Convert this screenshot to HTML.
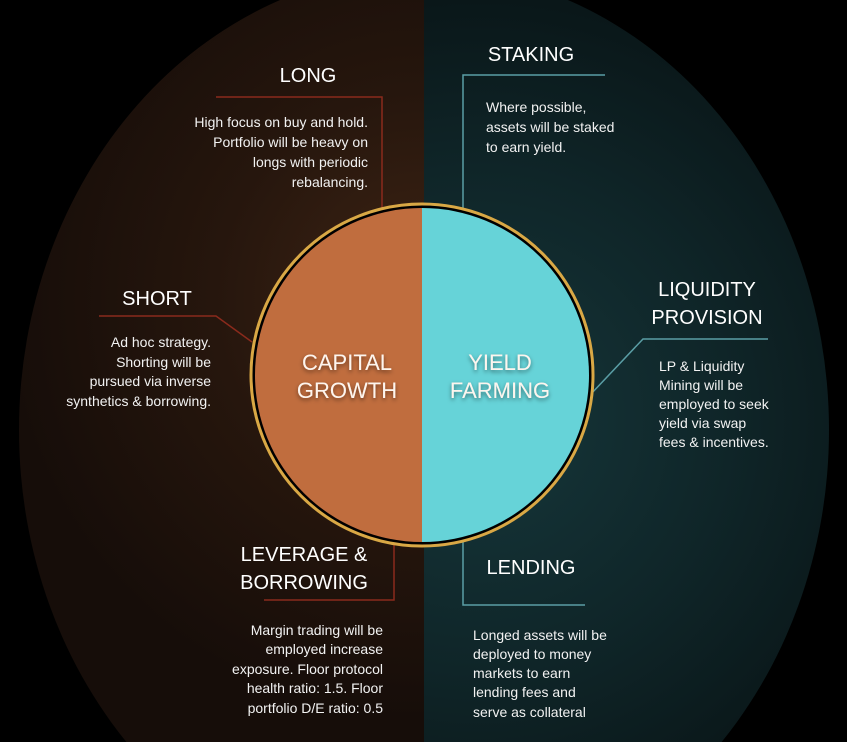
<!DOCTYPE html>
<html><head><meta charset="utf-8"><style>
html,body{margin:0;padding:0;background:#000;width:847px;height:742px;overflow:hidden;}
svg{display:block;}
text{font-family:"Liberation Sans",sans-serif;fill:#fff;}
.t{font-size:20px;}
.b{font-size:14px;fill:#f2f2f2;}
.c{font-size:22px;fill:#fdf5ee;}
</style></head><body>
<svg width="847" height="742" viewBox="0 0 847 742" xmlns="http://www.w3.org/2000/svg">
<defs>
<radialGradient id="gl" cx="424" cy="300" r="420" gradientUnits="userSpaceOnUse">
<stop offset="0" stop-color="#3e2414"/><stop offset="0.5" stop-color="#26160d"/><stop offset="1" stop-color="#160d09"/>
</radialGradient>
<radialGradient id="gr" cx="480" cy="420" r="420" gradientUnits="userSpaceOnUse">
<stop offset="0" stop-color="#16373b"/><stop offset="0.6" stop-color="#0f2528"/><stop offset="1" stop-color="#0a1719"/>
</radialGradient>
<clipPath id="L"><rect x="0" y="0" width="424" height="742"/></clipPath>
<clipPath id="R"><rect x="424" y="0" width="423" height="742"/></clipPath>
<filter id="sh"><feDropShadow dx="0" dy="2" stdDeviation="2" flood-color="#000" flood-opacity="0.5"/></filter>
</defs>
<rect width="847" height="742" fill="#000"/>
<ellipse cx="424" cy="430" rx="405" ry="460" fill="url(#gl)" clip-path="url(#L)"/>
<ellipse cx="424" cy="430" rx="405" ry="460" fill="url(#gr)" clip-path="url(#R)"/>

<g fill="none" stroke-width="1.5">
<polyline points="216,97 382,97 382,210" stroke="#8a2a1c"/>
<polyline points="99,316 216,316 252,342" stroke="#8a2a1c"/>
<polyline points="264,600 394,600 394,540" stroke="#8a2a1c"/>
<polyline points="605,75 463,75 463,210" stroke="#5a9ea5"/>
<polyline points="768,339 643,339 590,395" stroke="#5a9ea5"/>
<polyline points="463,540 463,605 585,605" stroke="#5a9ea5"/>
</g>

<circle cx="422" cy="375" r="171" fill="#000" stroke="#d9a845" stroke-width="3"/>
<path d="M422,208 A167,167 0 0,0 422,542 Z" fill="#c06d3e"/>
<path d="M422,208 A167,167 0 0,1 422,542 Z" fill="#66d3d8"/>
<g filter="url(#sh)">
<text class="c" x="347" y="370" text-anchor="middle">CAPITAL</text>
<text class="c" x="347" y="398" text-anchor="middle">GROWTH</text>
<text class="c" x="500" y="370" text-anchor="middle">YIELD</text>
<text class="c" x="500" y="398" text-anchor="middle">FARMING</text>
</g>

<text class="t" x="308" y="82" text-anchor="middle">LONG</text>
<text class="b" x="368" y="127" text-anchor="end">High focus on buy and hold.</text>
<text class="b" x="368" y="147" text-anchor="end">Portfolio will be heavy on</text>
<text class="b" x="368" y="167" text-anchor="end">longs with periodic</text>
<text class="b" x="368" y="187" text-anchor="end">rebalancing.</text>

<text class="t" x="531" y="61" text-anchor="middle">STAKING</text>
<text class="b" x="486" y="112">Where  possible,</text>
<text class="b" x="486" y="132">assets will be staked</text>
<text class="b" x="486" y="152">to earn yield.</text>

<text class="t" x="157" y="305" text-anchor="middle">SHORT</text>
<text class="b" x="211" y="347" text-anchor="end">Ad hoc strategy.</text>
<text class="b" x="211" y="367" text-anchor="end">Shorting will be</text>
<text class="b" x="211" y="386" text-anchor="end">pursued via inverse</text>
<text class="b" x="211" y="406" text-anchor="end">synthetics &amp; borrowing.</text>

<text class="t" x="707" y="296" text-anchor="middle">LIQUIDITY</text>
<text class="t" x="707" y="324" text-anchor="middle">PROVISION</text>
<text class="b" x="659" y="371">LP &amp; Liquidity</text>
<text class="b" x="659" y="390">Mining will be</text>
<text class="b" x="659" y="409">employed to seek</text>
<text class="b" x="659" y="428">yield via swap</text>
<text class="b" x="659" y="447">fees &amp; incentives.</text>

<text class="t" x="304" y="561" text-anchor="middle">LEVERAGE &amp;</text>
<text class="t" x="304" y="589" text-anchor="middle">BORROWING</text>
<text class="b" x="383" y="635" text-anchor="end">Margin trading will be</text>
<text class="b" x="383" y="654" text-anchor="end">employed increase</text>
<text class="b" x="383" y="674" text-anchor="end">exposure. Floor protocol</text>
<text class="b" x="383" y="693" text-anchor="end">health ratio: 1.5. Floor</text>
<text class="b" x="383" y="713" text-anchor="end">portfolio D/E ratio: 0.5</text>

<text class="t" x="531" y="574" text-anchor="middle">LENDING</text>
<text class="b" x="473" y="640">Longed assets will be</text>
<text class="b" x="473" y="659">deployed to money</text>
<text class="b" x="473" y="678">markets to earn</text>
<text class="b" x="473" y="697">lending fees and</text>
<text class="b" x="473" y="717">serve as collateral</text>
</svg>
</body></html>
